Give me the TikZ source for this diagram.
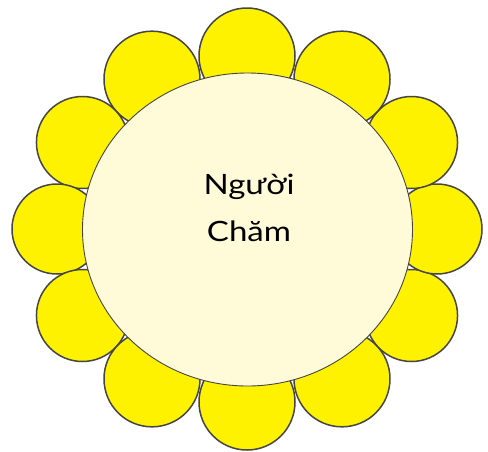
\documentclass[tikz,border=0pt]{standalone}
\usepackage{fontspec}
\setmainfont{Lato}
\newfontfamily\labelfont[FakeStretch=1.18]{Lato}
\usetikzlibrary{shapes.geometric}
\definecolor{petalfill}{HTML}{FFF200}
\definecolor{centerfill}{HTML}{FFFAD8}
\definecolor{edgegray}{HTML}{454545}
\tikzset{
  petal/.style={draw=edgegray, fill=petalfill, line width=1.5pt},
  heart/.style={draw=edgegray, fill=centerfill, line width=0.9pt}
}
\begin{document}
\begin{tikzpicture}[x=1pt,y=-1pt]
\useasboundingbox (0,0) rectangle (488,451);
% petals around an ellipse, every 30 degrees
\foreach \ang/\r [count=\i] in {90/48,120/48,150/46,180/45,210/46,240/48,270/48,300/48,330/46,0/45,30/46,60/48}{
  \path[petal] ({247+190*cos(\ang)},{229-173*sin(\ang)}) circle[radius=\r];
}
\node[heart, ellipse, minimum width=330pt, minimum height=313pt, inner sep=0pt] (c) at (247.5,229.5) {};
\node[align=center, font=\labelfont\fontsize{28}{47}\selectfont] (t) at (249,208) {Người\\Chăm};
\end{tikzpicture}
\end{document}
